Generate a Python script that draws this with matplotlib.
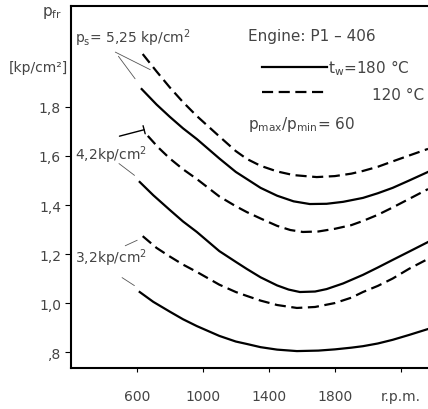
import numpy as np
import matplotlib.pyplot as plt

# friction mean effective pressure vs engine speed, Engine P1-406
rpm_a = [636, 720, 800, 880, 964, 1100, 1200, 1267, 1350, 1450, 1550, 1690, 1800, 1900, 1970, 2060, 2150, 2250, 2364]
pfr_525_120 = [2.016, 1.945, 1.88, 1.82, 1.763, 1.68, 1.62, 1.588, 1.56, 1.537, 1.522, 1.514, 1.518, 1.528, 1.539, 1.556, 1.578, 1.602, 1.629]
rpm_b = [630, 720, 800, 880, 964, 1100, 1200, 1267, 1350, 1450, 1550, 1648, 1750, 1850, 1970, 2060, 2150, 2250, 2364]
pfr_525_180 = [1.873, 1.81, 1.76, 1.713, 1.669, 1.59, 1.535, 1.506, 1.47, 1.438, 1.415, 1.404, 1.405, 1.413, 1.429, 1.448, 1.47, 1.50, 1.535]
rpm_c = [667, 730, 800, 880, 964, 1100, 1200, 1267, 1350, 1450, 1530, 1606, 1700, 1800, 1900, 1970, 2060, 2150, 2250, 2364]
pfr_42_120 = [1.682, 1.635, 1.59, 1.546, 1.506, 1.435, 1.395, 1.371, 1.345, 1.315, 1.298, 1.290, 1.292, 1.303, 1.318, 1.335, 1.36, 1.39, 1.425, 1.465]
rpm_d = [618, 700, 800, 880, 964, 1100, 1200, 1267, 1350, 1450, 1520, 1588, 1680, 1750, 1850, 1970, 2060, 2150, 2250, 2364]
pfr_42_180 = [1.494, 1.44, 1.38, 1.333, 1.290, 1.212, 1.168, 1.139, 1.105, 1.072, 1.055, 1.045, 1.047, 1.057, 1.080, 1.115, 1.145, 1.176, 1.210, 1.249]
rpm_e = [636, 720, 800, 880, 964, 1100, 1200, 1267, 1350, 1450, 1570, 1680, 1800, 1900, 1970, 2060, 2150, 2250, 2364]
pfr_32_120 = [1.273, 1.225, 1.19, 1.157, 1.127, 1.075, 1.045, 1.029, 1.01, 0.992, 0.980, 0.984, 1.00, 1.022, 1.045, 1.07, 1.10, 1.14, 1.180]
rpm_f = [618, 700, 800, 880, 964, 1100, 1200, 1267, 1350, 1450, 1570, 1700, 1800, 1900, 1970, 2060, 2150, 2250, 2364]
pfr_32_180 = [1.045, 1.005, 0.965, 0.934, 0.906, 0.866, 0.843, 0.833, 0.82, 0.81, 0.804, 0.806, 0.811, 0.818, 0.824, 0.835, 0.85, 0.87, 0.894]

xticks = [600, 1000, 1400, 1800, 2200]
xlabels = ['600', '1000', '1400', '1800', 'r.p.m.']
yticks = [0.8, 1.0, 1.2, 1.4, 1.6, 1.8]
ylabels = [',8', '1,0', '1,2', '1,4', '1,6', '1,8']

tc = '#444444'
plt.rcParams['font.family'] = ['DejaVu Sans']
plt.rcParams['mathtext.default'] = 'regular'

fig = plt.figure(figsize=(4.28, 4.10), dpi=100)
ax = fig.add_axes([70.7/428, 41/410, (428-70.7)/428, 362/410])

dash = (0, (5, 2.5))
ax.plot(rpm_a, pfr_525_120, color='k', lw=1.6, linestyle=dash)
ax.plot(rpm_b, pfr_525_180, color='k', lw=1.6)
ax.plot(rpm_c, pfr_42_120, color='k', lw=1.6, linestyle=dash)
ax.plot(rpm_d, pfr_42_180, color='k', lw=1.6)
ax.plot(rpm_e, pfr_32_120, color='k', lw=1.6, linestyle=dash)
ax.plot(rpm_f, pfr_32_180, color='k', lw=1.6)

ax.set_xlim(200, 2364)
ax.set_ylim(0.735, 2.212)
ax.set_xticks(xticks)
ax.set_xticklabels(xlabels, fontsize=10, color=tc)
ax.set_yticks(yticks)
ax.set_yticklabels(ylabels, fontsize=10, color=tc)
ax.tick_params(axis='x', direction='out', length=3, width=0.8, pad=12)
ax.tick_params(axis='y', direction='out', length=4, width=0.8, pad=3)
ax.spines['right'].set_visible(False)
for s in ['left', 'bottom', 'top']:
    ax.spines[s].set_linewidth(1.5)

# y axis label
fig.text(52/428, 1-13/410, r'$p_{fr}$', fontsize=11, color=tc, ha='center', va='center')
fig.text(38/428, 1-68/410, '[kp/cm²]', fontsize=10, color=tc, ha='center', va='center')

# pressure labels with leader lines
ln = dict(arrowstyle='-', color='#555555', lw=0.6)
ax.text(224, 2.086, r'$p_s$= 5,25 kp/cm$^2$', fontsize=10, color=tc, va='center')
ax.annotate('', xy=(697, 1.947), xytext=(455, 2.029), arrowprops=ln)
ax.annotate('', xy=(600, 1.906), xytext=(479, 2.016), arrowprops=ln)

ax.text(224, 1.608, r'4,2kp/cm$^2$', fontsize=10, color=tc, va='center')
ax.annotate('', xy=(661, 1.71), xytext=(479, 1.678),
            arrowprops=dict(arrowstyle='-[, widthB=0.3, lengthB=0', color='k', lw=1.0))
ax.annotate('', xy=(600, 1.514), xytext=(479, 1.576), arrowprops=ln)

ax.text(224, 1.188, r'3,2kp/cm$^2$', fontsize=10, color=tc, va='center')
ax.annotate('', xy=(618, 1.261), xytext=(515, 1.229), arrowprops=ln)
ax.annotate('', xy=(600, 1.065), xytext=(497, 1.110), arrowprops=ln)

# legend block
fig.text(248/428, 1-36/410, 'Engine: P1 – 406', fontsize=11, color=tc, va='center')
fig.add_artist(plt.Line2D([262/428, 327/428], [1-68/410, 1-68/410], color='k', lw=1.6))
fig.text(328/428, 1-68/410, r'$t_w$=180 °C', fontsize=11, color=tc, va='center')
fig.add_artist(plt.Line2D([262/428, 327/428], [1-93/410, 1-93/410], color='k', lw=1.6,
                          linestyle=dash))
fig.text(372/428, 1-96/410, '120 °C', fontsize=11, color=tc, va='center')
fig.text(248/428, 1-125/410, r'$p_{max}/p_{min}$= 60', fontsize=11, color=tc, va='center')

plt.savefig('out.png', dpi=100)
